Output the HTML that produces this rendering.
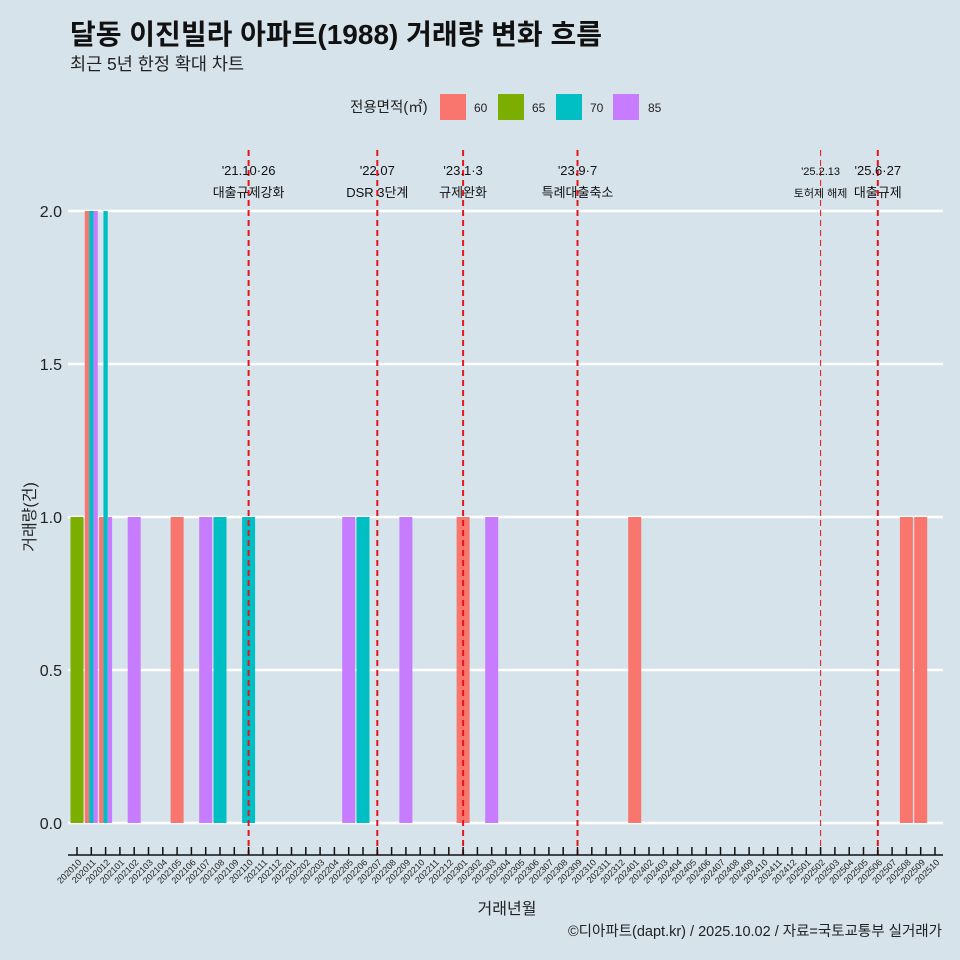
<!DOCTYPE html>
<html><head><meta charset="utf-8"><style>
body{margin:0;background:#d6e3ea;}
svg{display:block;font-family:"Liberation Sans","Noto Sans CJK KR",sans-serif;}
</style></head><body>
<svg id="c" width="960" height="960" viewBox="0 0 960 960">
<rect width="960" height="960" fill="#d6e3ea"/>
<text x="70" y="44" font-size="28" font-weight="bold" fill="#111">달동 이진빌라 아파트(1988) 거래량 변화 흐름</text>
<text x="70" y="70" font-size="17.5" fill="#222">최근 5년 한정 확대 차트</text>
<g>
<text x="350" y="112" font-size="14.5" fill="#222">전용면적(㎡)</text>
<rect x="440" y="94" width="26" height="26" fill="#F8766D"/>
<text x="474" y="112" font-size="12" fill="#222">60</text>
<rect x="498" y="94" width="26" height="26" fill="#7CAE00"/>
<text x="532" y="112" font-size="12" fill="#222">65</text>
<rect x="556" y="94" width="26" height="26" fill="#00BFC4"/>
<text x="590" y="112" font-size="12" fill="#222">70</text>
<rect x="613" y="94" width="26" height="26" fill="#C77CFF"/>
<text x="648" y="112" font-size="12" fill="#222">85</text>
</g>
<g id="grid"></g><g id="bars"></g><g id="events"></g><g id="xaxis"></g>
<text x="507" y="914" font-size="16" text-anchor="middle" fill="#222">거래년월</text>
<text transform="translate(35,517) rotate(-90)" font-size="16" text-anchor="middle" fill="#222">거래량(건)</text>
<text x="942" y="936" font-size="14.5" text-anchor="end" fill="#222">©디아파트(dapt.kr) / 2025.10.02 / 자료=국토교통부 실거래가</text>
</svg>
<script>
const months=[];for(let y=2020;y<=2025;y++)for(let m=1;m<=12;m++){const k=y*100+m;if(k>=202010&&k<=202510)months.push(String(k));}
const sizes=["60","65","70","85"];
const colors=["#F8766D","#7CAE00","#00BFC4","#C77CFF"];
// [month, size, count]
const trades=[["202010","65",1],["202011","60",2],["202011","70",2],["202011","85",2],
["202012","60",1],["202012","70",2],["202012","85",1],["202102","85",1],["202105","60",1],
["202107","85",1],["202108","70",1],["202110","70",1],["202205","85",1],["202206","70",1],
["202209","85",1],["202301","60",1],["202303","85",1],["202401","60",1],["202508","60",1],["202509","60",1]];
const yTicks=[0,0.5,1,1.5,2];
const yLabels=["0.0","0.5","1.0","1.5","2.0"];
const eventMonths=[12,21,27,35,52,56];
const eventLine1=["'21.10·26","'22.07","'23.1·3","'23.9·7","'25.2.13","'25.6·27"];
const eventLine2=["대출규제강화","DSR 3단계","규제완화","특례대출축소","토허제 해제","대출규제"];
const NS="http://www.w3.org/2000/svg";
const x=i=>77+i*14.3, y=v=>823-v*306;
function mk(t,a,p){const e=document.createElementNS(NS,t);for(const k in a)e.setAttribute(k,a[k]);p.appendChild(e);return e;}
const G=document.getElementById('grid'),B=document.getElementById('bars'),E=document.getElementById('events'),X=document.getElementById('xaxis');
yTicks.forEach((v,i)=>{
 const l=mk('line',{x1:68,x2:943,y1:y(v),y2:y(v),stroke:'#fff','stroke-width':2.5},G);
 
 
 const t=mk('text',{x:62,y:y(v)+6,'font-size':16,'text-anchor':'end',fill:'#222'},G);t.textContent=yLabels[i];
 
 
});
const W=13;
months.forEach((m,i)=>{
 const grp=trades.filter(d=>d[0]===m);
 const n=grp.length;grp.forEach((d,j)=>{
  const bw=W/n,bx=x(i)-W/2+j*bw;
  const r=mk('rect',{x:bx,y:y(d[2]),width:bw,height:y(0)-y(d[2]),fill:colors[sizes.indexOf(d[1])]},B);
  
  
 });
});
eventMonths.forEach((mi,i)=>{
 const l=mk('line',{x1:x(mi),x2:x(mi),y1:150,y2:855,stroke:'#e8141c','stroke-width':i===4?1:2,'stroke-dasharray':'6,4'},E);
 
 
 const fs=i===4?11:13;
 const t1=mk('text',{x:x(mi),y:175,'font-size':fs,'text-anchor':'middle',fill:'#111'},E);t1.textContent=eventLine1[i];
 
 
 const t2=mk('text',{x:x(mi),y:197,'font-size':fs,'text-anchor':'middle',fill:'#111'},E);t2.textContent=eventLine2[i];
 
 
});
const ax=mk('line',{x1:68,x2:943,y1:855,y2:855,stroke:'#111','stroke-width':1.5},X);


months.forEach((m,i)=>{
 const tk=mk('line',{x1:x(i),x2:x(i),y1:847,y2:855,stroke:'#111','stroke-width':1.5},X);
 
 
 const t=mk('text',{transform:`translate(${x(i)+5},863) rotate(-45)`,'font-size':9,'text-anchor':'end',fill:'#222'},X);t.textContent=m;
 
 
});
</script>
</body></html>
